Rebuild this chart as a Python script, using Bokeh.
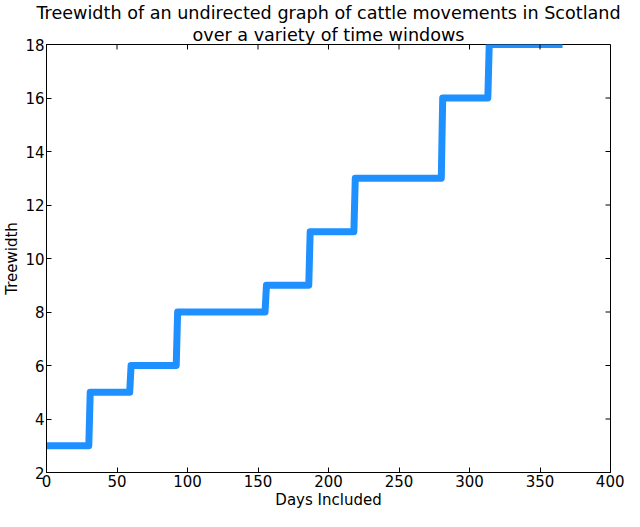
import math
from bokeh.plotting import figure
from bokeh.models import Range1d, FixedTicker, Title
from bokeh.embed import file_html
from bokeh.resources import INLINE

# Data (days included vs treewidth)
days = [0, 30, 31, 59, 60, 92, 93, 155, 156, 186, 187, 218, 219, 280, 281, 313, 314, 366]
treewidth = [3, 3, 5, 5, 6, 6, 8, 8, 9, 9, 11, 11, 13, 13, 16, 16, 18, 18]

x_ticks = [0, 50, 100, 150, 200, 250, 300, 350, 400]
y_ticks = [2, 4, 6, 8, 10, 12, 14, 16, 18]
x_min, x_max = 0, 400
y_min, y_max = 2, 18

title_line1 = "Treewidth of an undirected graph of cattle movements in Scotland"
title_line2 = "over a variety of time windows"

FONT = "DejaVu Sans"

p = figure(width=624, height=511, output_backend="svg", toolbar_location=None,
           x_range=Range1d(x_min, x_max), y_range=Range1d(y_min, y_max),
           min_border_left=46, min_border_right=14, min_border_top=44, min_border_bottom=30)
p.title.visible = False

p.line(days, treewidth, line_color="#1E90FF", line_width=7, line_join="round")

# inward ticks on the top and right spines (as in matplotlib classic style)
p.ray(x=x_ticks, y=[y_max] * len(x_ticks), length=5, length_units="screen",
      angle=-math.pi / 2, line_color="black", line_width=1)
p.ray(x=[x_max] * len(y_ticks), y=y_ticks, length=5, length_units="screen",
      angle=math.pi, line_color="black", line_width=1)

p.grid.visible = False
p.outline_line_color = "black"
p.outline_line_alpha = 1.0
p.outline_line_width = 1

def style_axis(ax, ticks):
    ax.ticker = FixedTicker(ticks=ticks)
    ax.major_tick_in = 5
    ax.major_tick_out = 0
    ax.minor_tick_in = 0
    ax.minor_tick_out = 0
    ax.axis_line_color = "black"
    ax.major_tick_line_color = "black"
    ax.major_label_text_font = FONT
    ax.major_label_text_font_size = "15px"
    ax.major_label_text_color = "black"
    ax.axis_label_text_font = FONT
    ax.axis_label_text_font_size = "15px"
    ax.axis_label_text_font_style = "normal"
    ax.axis_label_text_color = "black"
    ax.major_label_standoff = 2
    ax.axis_label_standoff = 1

style_axis(p.xaxis[0], x_ticks)
style_axis(p.yaxis[0], y_ticks)
p.xaxis[0].axis_label = "Days Included"
p.yaxis[0].axis_label = "Treewidth"

t2 = Title(text=title_line2, align="center", text_font=FONT, text_font_size="17.6px",
           text_font_style="normal", text_color="black", standoff=0, offset=0)
t1 = Title(text=title_line1, align="center", text_font=FONT, text_font_size="17.6px",
           text_font_style="normal", text_color="black", standoff=0, offset=0)
p.add_layout(t2, "above")
p.add_layout(t1, "above")

open("out.html", "w").write(file_html(p, INLINE))
